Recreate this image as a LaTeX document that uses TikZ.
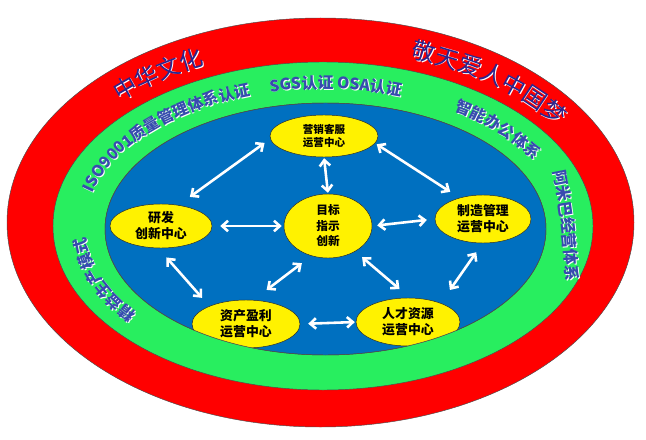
\documentclass[tikz,border=0pt]{standalone}
\usepackage{fontspec}
\setmainfont{Noto Sans CJK SC}
\usetikzlibrary{arrows.meta}
\usetikzlibrary{shapes.geometric}
\usetikzlibrary{decorations.text}

\definecolor{ringred}{RGB}{255,0,0}
\definecolor{ringgreen}{RGB}{40,238,95}
\definecolor{ringblue}{RGB}{0,112,192}
\definecolor{inkred}{RGB}{45,35,140}
\definecolor{inkgreen}{RGB}{55,75,175}
\newcommand{\redsize}{\fontsize{20}{24}\selectfont}
\newcommand{\greensize}{\bfseries\fontsize{13.5}{16}\selectfont}

\tikzset{
  centrebox/.style={ellipse, draw=black!85, thin, fill=yellow, inner sep=0pt, align=center,
    font=\bfseries\fontsize{11}{13.6}\selectfont},
  dualarrow/.style={draw=white, line width=2.2pt,
    {Straight Barb[length=5pt,width=9pt]}-{Straight Barb[length=5pt,width=9pt]}},
  ringtext/.style n args={3}{decorate, decoration={text along path, text align=center,
    text color=#2, text={|#1|#3}}},
}

\begin{document}
\begin{tikzpicture}[x=0.03cm, y=0.03cm]
\useasboundingbox (0,0) rectangle (646,439);

\draw[fill=ringred, draw=black!70] (320.5,216.5) ellipse [x radius=313.5, y radius=204.5];
\draw[fill=ringgreen, draw=black!70] (323,213) ellipse [x radius=270, y radius=164];
\draw[fill=ringblue, draw=black!70] (325.5,210) ellipse [x radius=220.5, y radius=126];

% white shadow first, then the ink
\foreach \sx/\sy/\inkr/\inkg in {0.9/-0.9/white/white, 0/0/inkred/inkgreen} {
  \begin{scope}[shift={(\sx,\sy)}]
    \path[ringtext={\redsize}{\inkr}{中华文化}]
      ([shift={(322,215)}]146:283 and 175) arc[start angle=146, end angle=106, x radius=283, y radius=175];
    \path[ringtext={\redsize}{\inkr}{敬天爱人中国梦}]
      ([shift={(322,215)}]81:283 and 175) arc[start angle=81, end angle=21, x radius=283, y radius=175];
    \path[ringtext={\greensize}{\inkg}{SGS认证 OSA认证}]
      ([shift={(324,211.5)}]112:239 and 139) arc[start angle=112, end angle=62, x radius=239, y radius=139];
    \path[ringtext={\greensize}{\inkg}{ISO9001质量管理体系认证}]
      ([shift={(324,211.5)}]182:239 and 139) arc[start angle=182, end angle=98, x radius=239, y radius=139];
    \path[ringtext={\greensize}{\inkg}{智能办公体系}]
      ([shift={(324,211.5)}]66:239 and 139) arc[start angle=66, end angle=16, x radius=239, y radius=139];
    \path[ringtext={\greensize}{\inkg}{阿米巴经营体系}]
      (548,290) .. controls (560,240) and (567,190) .. (566,135);
    \path[ringtext={\greensize}{\inkg}{精益生产模式}]
      ([shift={(324,211.5)}]229:239 and 139) arc[start angle=229, end angle=169, x radius=239, y radius=139];
  \end{scope}
}

\begin{scope}
  \clip (325.5,210) ellipse [x radius=220.5, y radius=126];
  \node[centrebox, minimum width=3.24cm, minimum height=1.26cm,
    font=\bfseries\fontsize{9}{11.3}\selectfont] (mkt) at (324,303) {营销客服\\运营中心};
  \node[centrebox, minimum width=2.64cm, minimum height=1.92cm,
    font=\bfseries\fontsize{10}{13.2}\selectfont] (goal) at (328,213) {目标\\指示\\创新};
  \node[centrebox, minimum width=3.06cm, minimum height=1.32cm] (rd) at (161,213) {研发\\创新中心};
  \node[centrebox, minimum width=2.88cm, minimum height=1.44cm] (mfg) at (483,220) {制造管理\\运营中心};
  \node[centrebox, minimum width=3.24cm, minimum height=1.44cm] (asset) at (246,115) {资产盈利\\运营中心};
  \node[centrebox, minimum width=3.12cm, minimum height=1.44cm] (hr) at (408,117) {人才资源\\运营中心};
\end{scope}
\draw[draw=black!70] (325.5,210) ellipse [x radius=220.5, y radius=126];

\draw[dualarrow, shorten <=0.21cm, shorten >=0.42cm] (mkt.183) -- (rd.50);
\draw[dualarrow, shorten <=0.06cm, shorten >=0.33cm] (mkt.-8) -- (mfg.138);
\draw[dualarrow, shorten <=0.03cm, shorten >=0.03cm] (mkt.south) -- (goal.north);
\draw[dualarrow, shorten <=0.24cm, shorten >=0.06cm] (rd.east) -- (goal.west);
\draw[dualarrow, shorten <=0.15cm, shorten >=0.24cm] (goal.east) -- (mfg.west);
\draw[dualarrow, shorten <=0.36cm, shorten >=0.5cm] (goal.241) -- (asset.73);
\draw[dualarrow, shorten <=0.27cm, shorten >=0.4cm] (goal.-43) -- (hr.86);
\draw[dualarrow, shorten <=0.37cm, shorten >=0.33cm] (rd.263) -- (asset.154);
\draw[dualarrow, shorten <=0.33cm, shorten >=0.48cm] (mfg.269) -- (hr.30);
\draw[dualarrow, shorten <=0.24cm, shorten >=0.03cm] (asset.east) -- (hr.west);
\end{tikzpicture}
\end{document}
